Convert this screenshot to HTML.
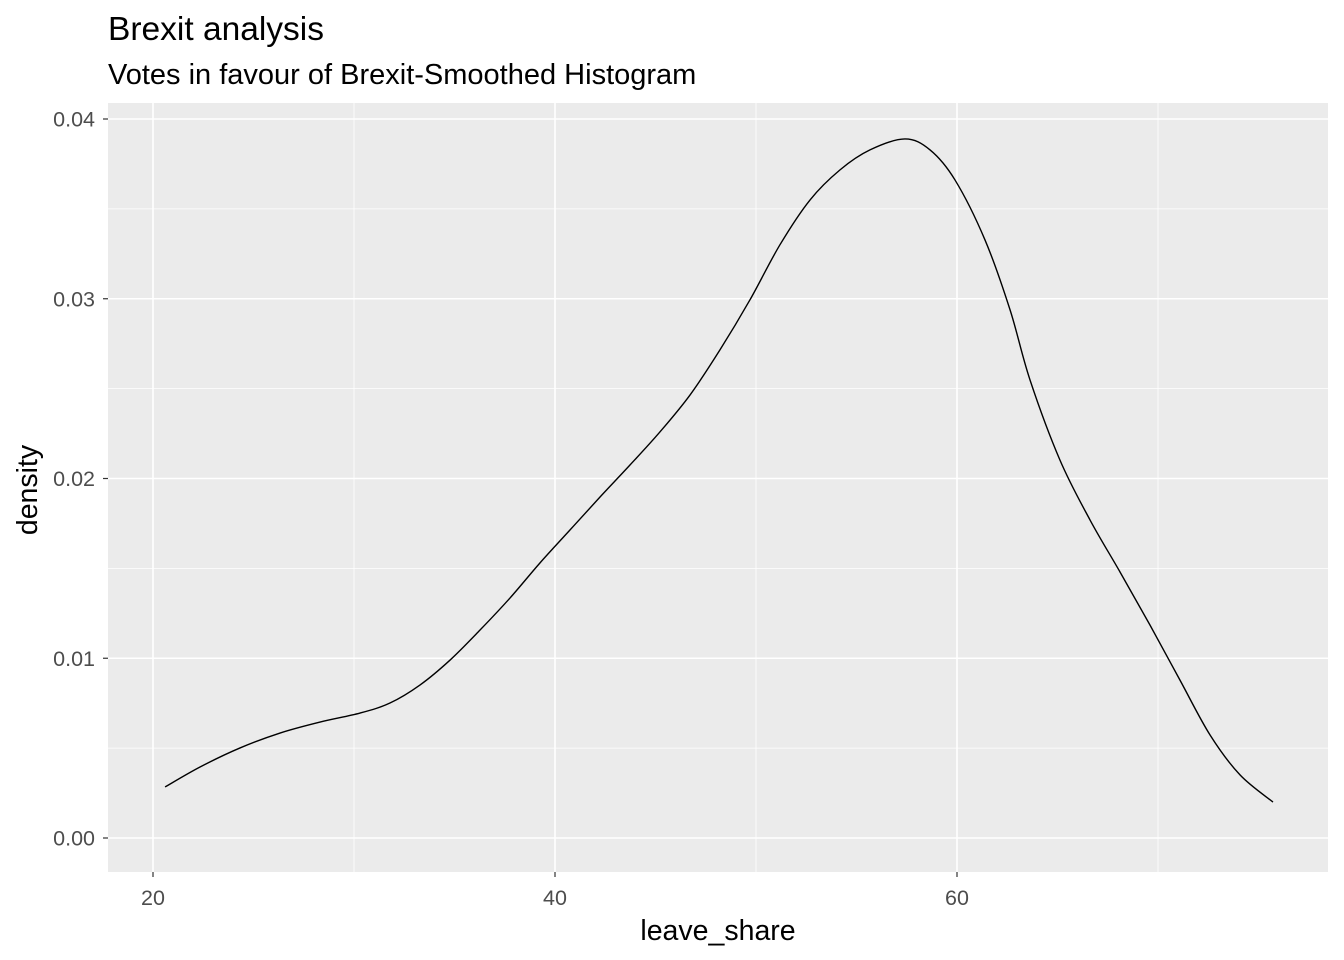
<!DOCTYPE html>
<html><head><meta charset="utf-8"><style>
body{margin:0;background:#fff;}
svg{display:block;font-family:"Liberation Sans",Arial,sans-serif;}
</style></head><body>
<svg id="chart" width="1344" height="960">
<text x="108" y="40" font-size="33.5" fill="#000">Brexit analysis</text>
<text x="108" y="84" font-size="29" fill="#000">Votes in favour of Brexit-Smoothed Histogram</text>
<rect x="108" y="103" width="1220" height="769" fill="#ebebeb"/>
<g id="grid"></g>
<g id="axes"></g>
<path id="curve" fill="none" stroke="#000" stroke-width="1.4"/>
<text x="718" y="940" font-size="28.5" text-anchor="middle" fill="#000">leave_share</text>
<text transform="translate(37,490) rotate(-90)" font-size="28.5" text-anchor="middle" fill="#000">density</text>
</svg>
<script>
const xs=[20.6,22.34,24.33,26.32,28.31,30.30,31.79,33.28,34.78,36.27,37.76,39.25,40.75,42.24,43.73,45.22,46.72,48.21,49.70,51.19,52.69,54.18,55.67,57.41,58.66,59.90,61.39,62.64,63.63,65.12,66.62,68.11,69.60,71.09,72.59,74.08,75.72];
const dens=[0.00284,0.00395,0.00501,0.00584,0.00645,0.00695,0.00751,0.00851,0.00990,0.01157,0.01335,0.01530,0.01714,0.01897,0.02075,0.02259,0.02465,0.02716,0.02994,0.03300,0.03550,0.03717,0.03828,0.03889,0.03828,0.03661,0.03328,0.02938,0.02549,0.02103,0.01769,0.01480,0.01185,0.00879,0.00573,0.00351,0.00200];
const xTicks=[20,40,60];
const xMinor=[30,50,70];
const yTicks=[0,0.01,0.02,0.03,0.04];
const yLabels=["0.00","0.01","0.02","0.03","0.04"];
const yMinor=[0.005,0.015,0.025,0.035];
const X=v=>153+(v-20)*20.1;
const Y=v=>838-v*17975;
const NS="http://www.w3.org/2000/svg";
const grid=document.getElementById('grid'),axes=document.getElementById('axes');
function line(p,x1,y1,x2,y2,st,w){const l=document.createElementNS(NS,'line');l.setAttribute('x1',x1);l.setAttribute('y1',y1);l.setAttribute('x2',x2);l.setAttribute('y2',y2);l.setAttribute('stroke',st);l.setAttribute('stroke-width',w);p.appendChild(l);return l;}
function text(p,x,y,t,a){const e=document.createElementNS(NS,'text');e.setAttribute('x',x);e.setAttribute('y',y);e.setAttribute('text-anchor',a);e.setAttribute('font-size','21.5');e.setAttribute('fill','#4d4d4d');e.textContent=t;p.appendChild(e);return e;}
yMinor.forEach(v=>{const l=line(grid,108,Y(v),1328,Y(v),'#fff',0.8);

});
xMinor.forEach(v=>{const l=line(grid,X(v),103,X(v),872,'#fff',0.8);

});
yTicks.forEach((v,i)=>{const l=line(grid,108,Y(v),1328,Y(v),'#fff',1.6);


const t=line(axes,103,Y(v),108,Y(v),'#333',1.2);


const tx=text(axes,95,Y(v)+7.5,yLabels[i],'end');

});
xTicks.forEach(v=>{const l=line(grid,X(v),103,X(v),872,'#fff',1.6);


const t=line(axes,X(v),872,X(v),877,'#333',1.2);


const tx=text(axes,X(v),905,String(v),'middle');

});
const P=xs.map((x,i)=>[X(x),Y(dens[i])]);
let d='M'+P[0][0]+','+P[0][1];
for(let i=0;i<P.length-1;i++){const p0=P[Math.max(0,i-1)],p1=P[i],p2=P[i+1],p3=P[Math.min(P.length-1,i+2)];
const c1=[p1[0]+(p2[0]-p0[0])/6,p1[1]+(p2[1]-p0[1])/6],c2=[p2[0]-(p3[0]-p1[0])/6,p2[1]-(p3[1]-p1[1])/6];
d+=' C'+c1[0]+','+c1[1]+' '+c2[0]+','+c2[1]+' '+p2[0]+','+p2[1];}
document.getElementById('curve').setAttribute('d',d);
</script>
</body></html>
